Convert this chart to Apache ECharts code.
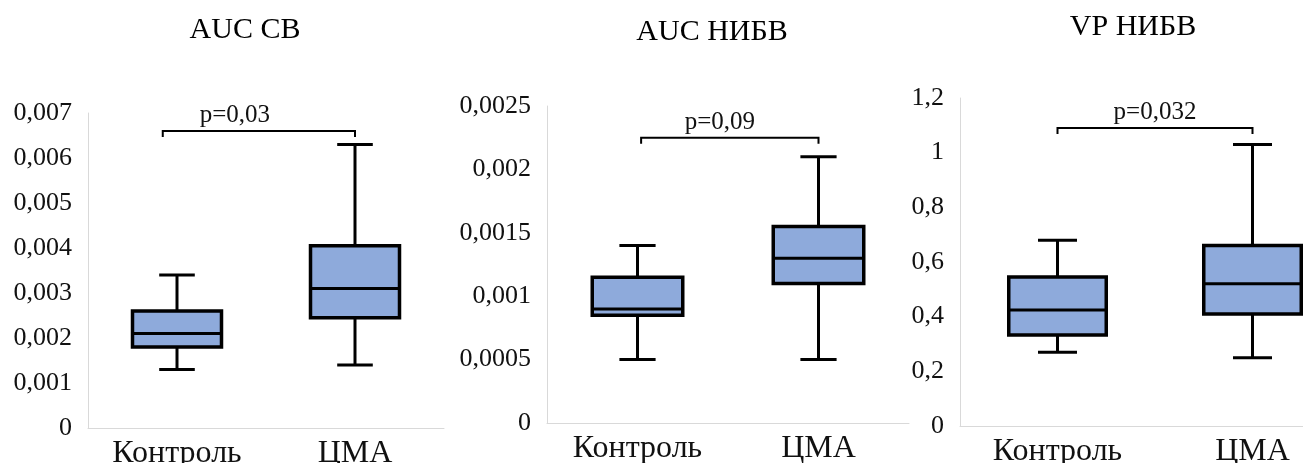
<!DOCTYPE html>
<html>
<head>
<meta charset="utf-8">
<script src="https://cdn.jsdelivr.net/npm/echarts@6/dist/echarts.min.js"></script>
<style>
  html, body { margin: 0; padding: 0; background: #fff; }
  #chart { width: 1303px; height: 463px; }
</style>
</head>
<body>
<div id="chart"></div>
<script>
// data: [min, Q1, median, Q3, max] for each group
const categories = ["Контроль", "ЦМА"];
const titles = ["AUC CB", "AUC НИБВ", "VP НИБВ"];
const pLabels = ["p=0,03", "p=0,09", "p=0,032"];

const aucCB = [
  [0.0013, 0.0018, 0.0021, 0.0026, 0.0034],
  [0.0014, 0.00245, 0.0031, 0.00405, 0.0063]
];
const aucNIBV = [
  [0.0005, 0.00085, 0.0009, 0.00115, 0.0014],
  [0.0005, 0.0011, 0.0013, 0.00155, 0.0021]
];
const vpNIBV = [
  [0.27, 0.333, 0.424, 0.545, 0.68],
  [0.25, 0.41, 0.52, 0.66, 1.03]
];
const bracketY = [0.0066, 0.00225, 1.09];

const yMax = [0.007, 0.0025, 1.2];
const yStep = [0.001, 0.0005, 0.2];

const panels = [aucCB, aucNIBV, vpNIBV];

// layout
const grids = [
  { left: 88, top: 113, width: 356, height: 315, outerBoundsMode: "none" },
  { left: 547, top: 106, width: 362, height: 317, outerBoundsMode: "none" },
  { left: 960, top: 98, width: 390, height: 328, outerBoundsMode: "none" }
];
const titlePos = [[245, 30], [712, 32], [1133, 27]];
const bracketShift = [-0.08, 0.02, 0];
const pLabelShift = [-24, -10, 0];

const serif = "Liberation Serif";
const boxColor = "#8eaadb";

const fmt = v => String(+v.toFixed(6)).replace(".", ",");

const chart = echarts.init(document.getElementById("chart"));

const xAxes = [], yAxes = [], series = [];
panels.forEach((data, i) => {
  xAxes.push({
    type: "category",
    gridIndex: i,
    data: categories,
    axisLine: { lineStyle: { color: "#d9d9d9", width: 1 } },
    axisTick: { show: false },
    axisLabel: { color: "#111", fontFamily: serif, fontSize: 32, margin: 10 }
  });
  yAxes.push({
    type: "value",
    gridIndex: i,
    min: 0,
    max: yMax[i],
    interval: yStep[i],
    axisLine: { show: true, lineStyle: { color: "#d9d9d9", width: 1 } },
    axisTick: { show: false },
    splitLine: { show: false },
    axisLabel: { color: "#111", fontFamily: serif, fontSize: 26, margin: 16, formatter: fmt }
  });

  series.push({
    type: "custom",
    xAxisIndex: i,
    yAxisIndex: i,
    data: data.map((d, k) => [k].concat(d)),
    renderItem: function (params, api) {
      const x = api.value(0);
      const pMin = api.coord([x, api.value(1)]);
      const pQ1 = api.coord([x, api.value(2)]);
      const pMed = api.coord([x, api.value(3)]);
      const pQ3 = api.coord([x, api.value(4)]);
      const pMax = api.coord([x, api.value(5)]);
      const band = api.size([1, 0])[0];
      const bw = band * 0.5;
      const cw = band * 0.2;
      const cx = pMin[0];
      const ln = { stroke: "#000", lineWidth: 3 };
      return {
        type: "group",
        children: [
          { type: "line", shape: { x1: cx, y1: pMax[1], x2: cx, y2: pQ3[1] }, style: ln },
          { type: "line", shape: { x1: cx, y1: pQ1[1], x2: cx, y2: pMin[1] }, style: ln },
          { type: "line", shape: { x1: cx - cw / 2, y1: pMax[1], x2: cx + cw / 2, y2: pMax[1] }, style: ln },
          { type: "line", shape: { x1: cx - cw / 2, y1: pMin[1], x2: cx + cw / 2, y2: pMin[1] }, style: ln },
          {
            type: "rect",
            shape: { x: cx - bw / 2, y: pQ3[1], width: bw, height: pQ1[1] - pQ3[1] },
            style: { fill: boxColor, stroke: "#000", lineWidth: 3.5 }
          },
          { type: "line", shape: { x1: cx - bw / 2, y1: pMed[1], x2: cx + bw / 2, y2: pMed[1] }, style: ln }
        ]
      };
    }
  });

  // significance bracket
  series.push({
    type: "custom",
    xAxisIndex: i,
    yAxisIndex: i,
    data: [[0, bracketY[i]]],
    renderItem: function (params, api) {
      const y = api.value(1);
      const a = api.coord([0, y]);
      const b = api.coord([1, y]);
      const band = api.size([1, 0])[0];
      const x1 = a[0] + bracketShift[i] * band;
      const x2 = b[0];
      const st = { stroke: "#000", lineWidth: 2, fill: null };
      return {
        type: "group",
        children: [
          {
            type: "polyline",
            shape: { points: [[x1, a[1] + 6], [x1, a[1]], [x2, a[1]], [x2, a[1] + 6]] },
            style: st
          },
          {
            type: "text",
            x: (x1 + x2) / 2 + pLabelShift[i],
            y: a[1] - 3,
            style: {
              text: pLabels[i],
              fill: "#111",
              font: "25px '" + serif + "'",
              textAlign: "center",
              textVerticalAlign: "bottom"
            }
          }
        ]
      };
    }
  });
});

const option = {
  animation: false,
  grid: grids,
  xAxis: xAxes,
  yAxis: yAxes,
  series: series,
  graphic: titles.map((t, i) => ({
    type: "text",
    x: titlePos[i][0],
    y: titlePos[i][1],
    style: {
      text: t,
      fill: "#000",
      font: "30px '" + serif + "'",
      textAlign: "center",
      textVerticalAlign: "middle"
    }
  }))
};

chart.setOption(option);
</script>
</body>
</html>
